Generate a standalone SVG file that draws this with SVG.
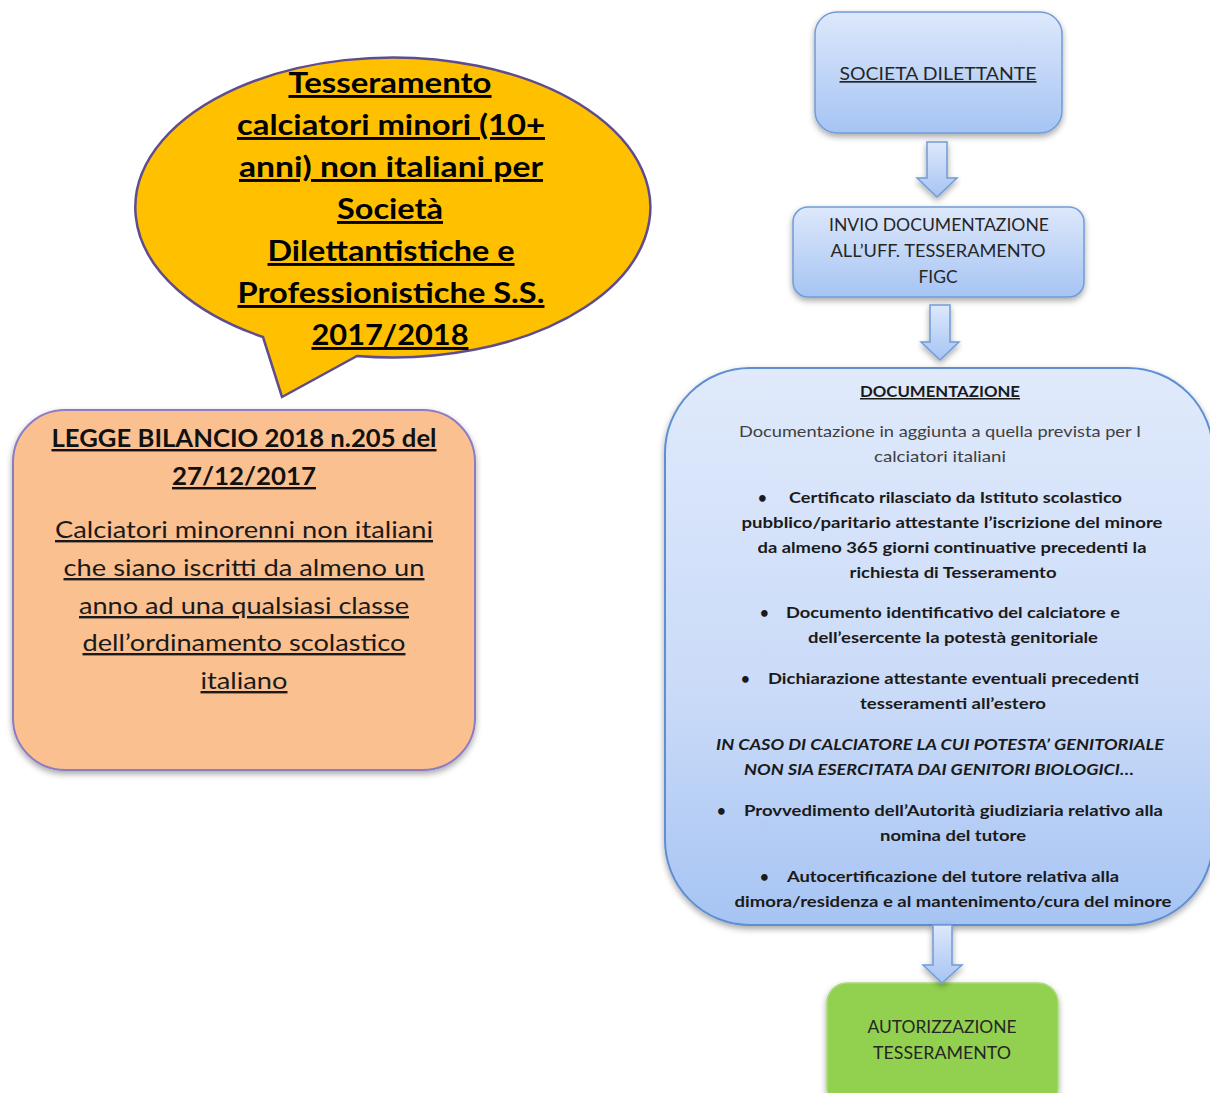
<svg xmlns="http://www.w3.org/2000/svg" width="1210" height="1093" viewBox="0 0 1210 1093">
<defs>
<linearGradient id="blue" x1="0" y1="0" x2="0" y2="1">
<stop offset="0" stop-color="#DDE8FB"/>
<stop offset="1" stop-color="#A6C4F3"/>
</linearGradient>
<linearGradient id="blue2" x1="0" y1="0" x2="0" y2="1">
<stop offset="0" stop-color="#E0EAFB"/>
<stop offset="0.6" stop-color="#C9DAF8"/>
<stop offset="1" stop-color="#A6C4F3"/>
</linearGradient>
<filter id="sh" x="-10%" y="-10%" width="120%" height="125%">
<feDropShadow dx="0" dy="3" stdDeviation="3" flood-color="#000" flood-opacity="0.35"/>
</filter>
<style>
text{font-family:Lato,"Open Sans","Liberation Sans",sans-serif;}
.t{font-size:29px;font-weight:bold;fill:#000;text-anchor:middle;text-decoration:underline;}
.lb{font-size:24px;font-weight:bold;fill:#111;text-anchor:middle;text-decoration:underline;}
.lr{font-size:24px;fill:#1a1a1a;text-anchor:middle;text-decoration:underline;}
.r{font-size:17px;fill:#262626;text-anchor:middle;}
.u{text-decoration:underline;}
.g{font-size:15px;fill:#404040;text-anchor:middle;}
.b{font-size:15px;font-weight:bold;fill:#1a1a1a;}
.m{text-anchor:middle;}
.i{font-style:italic;}
.blk{fill:url(#blue);stroke:#6F9CD8;stroke-width:1.5;}
</style>
</defs>
<g id="bubble">
<path d="M263,337 L282,397 L357,356 A257.5,150 0 1 0 263,337 Z" fill="#FFC000" stroke="#5E4C8E" stroke-width="2.5"/>
<text class="t" x="390" y="93" textLength="203" lengthAdjust="spacingAndGlyphs">Tesseramento</text>
<text class="t" x="391" y="135" textLength="308" lengthAdjust="spacingAndGlyphs">calciatori minori (10+</text>
<text class="t" x="391" y="177" textLength="304" lengthAdjust="spacingAndGlyphs">anni) non italiani per</text>
<text class="t" x="390" y="219" textLength="106" lengthAdjust="spacingAndGlyphs">Società</text>
<text class="t" x="391" y="261" textLength="247" lengthAdjust="spacingAndGlyphs">Dilettantistiche e</text>
<text class="t" x="391" y="303" textLength="307" lengthAdjust="spacingAndGlyphs">Professionistiche S.S.</text>
<text class="t" x="390" y="345" textLength="157" lengthAdjust="spacingAndGlyphs">2017/2018</text>
</g>
<g id="legge">
<rect x="13" y="410" width="462" height="360" rx="52" fill="#FAC090" stroke="#8E7CC3" stroke-width="2" filter="url(#sh)"/>
<text class="lb" x="244" y="447" textLength="385" lengthAdjust="spacingAndGlyphs">LEGGE BILANCIO  2018 n.205 del</text>
<text class="lb" x="244" y="485" textLength="144" lengthAdjust="spacingAndGlyphs">27/12/2017</text>
<text class="lr" x="244" y="538" textLength="378" lengthAdjust="spacingAndGlyphs">Calciatori minorenni non italiani</text>
<text class="lr" x="244" y="576" textLength="361" lengthAdjust="spacingAndGlyphs">che siano iscritti da almeno un</text>
<text class="lr" x="244" y="614" textLength="330" lengthAdjust="spacingAndGlyphs">anno ad una qualsiasi classe</text>
<text class="lr" x="244" y="651" textLength="323" lengthAdjust="spacingAndGlyphs">dell’ordinamento scolastico</text>
<text class="lr" x="244" y="689" textLength="87" lengthAdjust="spacingAndGlyphs">italiano</text>
</g>
<g id="societa">
<rect x="815" y="12" width="247" height="121" rx="22" class="blk" filter="url(#sh)"/>
<text class="r u" x="938" y="80" textLength="197" lengthAdjust="spacingAndGlyphs">SOCIETA DILETTANTE</text>
</g>
<g id="invio">
<rect x="793" y="207" width="291" height="90" rx="15" class="blk" filter="url(#sh)"/>
<text class="r" x="939" y="231" textLength="220" lengthAdjust="spacingAndGlyphs">INVIO DOCUMENTAZIONE</text>
<text class="r" x="938" y="257" textLength="215" lengthAdjust="spacingAndGlyphs">ALL’UFF. TESSERAMENTO</text>
<text class="r" x="938" y="283" textLength="39" lengthAdjust="spacingAndGlyphs">FIGC</text>
</g>
<g id="documentazione">
<rect x="665" y="368" width="548" height="557" rx="85" fill="url(#blue2)" stroke="#5E8FD0" stroke-width="2" filter="url(#sh)"/>
<text class="b m u" x="940" y="397" textLength="160" lengthAdjust="spacingAndGlyphs">DOCUMENTAZIONE</text>
<text class="g" x="940" y="437" textLength="402" lengthAdjust="spacingAndGlyphs">Documentazione in aggiunta a quella prevista per I</text>
<text class="g" x="940" y="462" textLength="132" lengthAdjust="spacingAndGlyphs">calciatori italiani</text>
<text class="b" x="758" y="503">•</text>
<text class="b" x="789" y="503" textLength="333" lengthAdjust="spacingAndGlyphs">Certificato rilasciato da Istituto scolastico</text>
<text class="b m" x="952" y="528" textLength="421" lengthAdjust="spacingAndGlyphs">pubblico/paritario  attestante l’iscrizione del minore</text>
<text class="b m" x="952" y="553" textLength="389" lengthAdjust="spacingAndGlyphs">da almeno 365 giorni continuative precedenti la</text>
<text class="b m" x="953" y="578" textLength="207" lengthAdjust="spacingAndGlyphs">richiesta di Tesseramento</text>
<text class="b" x="760" y="618">•</text>
<text class="b" x="786" y="618" textLength="334" lengthAdjust="spacingAndGlyphs">Documento identificativo del calciatore e</text>
<text class="b m" x="953" y="643" textLength="290" lengthAdjust="spacingAndGlyphs">dell’esercente la potestà genitoriale</text>
<text class="b" x="741" y="684">•</text>
<text class="b" x="768" y="684" textLength="371" lengthAdjust="spacingAndGlyphs">Dichiarazione attestante eventuali precedenti</text>
<text class="b m" x="953" y="709" textLength="186" lengthAdjust="spacingAndGlyphs">tesseramenti all’estero</text>
<text class="b m i" x="940" y="750" textLength="448" lengthAdjust="spacingAndGlyphs">IN CASO DI CALCIATORE LA CUI POTESTA’ GENITORIALE</text>
<text class="b m i" x="939" y="775" textLength="390" lengthAdjust="spacingAndGlyphs">NON SIA ESERCITATA DAI GENITORI BIOLOGICI…</text>
<text class="b" x="717" y="816">•</text>
<text class="b" x="744" y="816" textLength="419" lengthAdjust="spacingAndGlyphs">Provvedimento dell’Autorità giudiziaria relativo alla</text>
<text class="b m" x="953" y="841" textLength="146" lengthAdjust="spacingAndGlyphs">nomina del tutore</text>
<text class="b" x="760" y="882">•</text>
<text class="b" x="787" y="882" textLength="332" lengthAdjust="spacingAndGlyphs">Autocertificazione del tutore relativa alla</text>
<text class="b m" x="953" y="907" textLength="437" lengthAdjust="spacingAndGlyphs">dimora/residenza e al mantenimento/cura del minore</text>
</g>
<g id="autorizzazione">
<rect x="827" y="983" width="231" height="125" rx="20" fill="#92D050" stroke="#A9DA7C" stroke-width="1.5" filter="url(#sh)"/>
<text class="r" x="942" y="1033" textLength="149" lengthAdjust="spacingAndGlyphs">AUTORIZZAZIONE</text>
<text class="r" x="942" y="1059" textLength="138" lengthAdjust="spacingAndGlyphs">TESSERAMENTO</text>
</g>
<g id="connectors">
<path class="blk" d="M927,142 H947 V178 H957 L937,197 L917,178 H927 Z" filter="url(#sh)"/>
<path class="blk" d="M930,305 H950 V342 H959 L940,360 L921,342 H930 Z" filter="url(#sh)"/>
<path class="blk" d="M933,925 H952 V965 H962 L942,983 L923,965 H933 Z" filter="url(#sh)"/>
</g>
</svg>
